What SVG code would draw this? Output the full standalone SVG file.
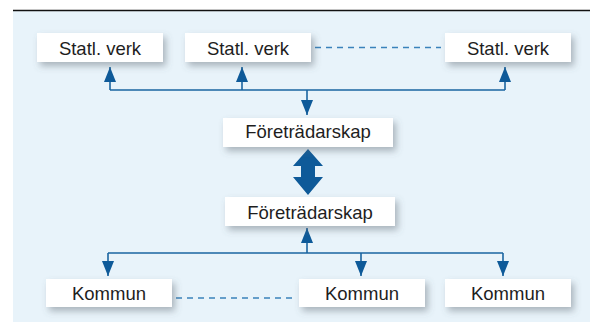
<svg xmlns="http://www.w3.org/2000/svg" width="590" height="322" viewBox="0 0 590 322">
<defs>
<filter id="sh" x="-20%" y="-40%" width="150%" height="200%">
<feDropShadow dx="3" dy="4" stdDeviation="3.5" flood-color="#5a6670" flood-opacity="0.45"/>
</filter>
<marker id="ah" viewBox="0 0 15 12" refX="15" refY="6" markerWidth="15" markerHeight="12" markerUnits="userSpaceOnUse" orient="auto">
<path d="M0,0 L15,6 L0,12 Z" fill="#0e5a99"/>
</marker>
</defs>
<style>
.box{fill:#ffffff;filter:url(#sh)}
.lbl{font-family:"Liberation Sans",Arial,sans-serif;font-size:18.5px;fill:#1e1e1e;text-anchor:middle}
.ln{fill:none;stroke:#1a64a0;stroke-width:1.6}
.dash{fill:none;stroke:#3a82bb;stroke-width:1.6;stroke-dasharray:6,5}
</style>
<rect x="13" y="11" width="577" height="311" fill="#e8f3fa"/>
<line x1="13" y1="10.5" x2="590" y2="10.5" stroke="#111" stroke-width="1.6"/>
<g id="connectors">
<line class="dash" x1="315" y1="47.5" x2="441" y2="47.5"/>
<line class="dash" x1="176" y1="298" x2="296" y2="298"/>
<path class="ln" d="M110,90 H505"/>
<line class="ln" x1="110" y1="90" x2="110" y2="67" marker-end="url(#ah)"/>
<line class="ln" x1="242" y1="90" x2="242" y2="67" marker-end="url(#ah)"/>
<line class="ln" x1="505" y1="90" x2="505" y2="67" marker-end="url(#ah)"/>
<line class="ln" x1="307" y1="90" x2="307" y2="115" marker-end="url(#ah)"/>
<path d="M308,149 L323,166 L315,166 L315,177 L323,177 L308,195 L293,177 L301,177 L301,166 L293,166 Z" fill="#0e5a99"/>
<path class="ln" d="M108,253 H503"/>
<line class="ln" x1="307" y1="253" x2="307" y2="228" marker-end="url(#ah)"/>
<line class="ln" x1="108" y1="253" x2="108" y2="276" marker-end="url(#ah)"/>
<line class="ln" x1="361" y1="253" x2="361" y2="276" marker-end="url(#ah)"/>
<line class="ln" x1="503" y1="253" x2="503" y2="276" marker-end="url(#ah)"/>
</g>
<g id="statl1"><rect class="box" x="37" y="33" width="126" height="29"/><text class="lbl" x="100" y="54.5">Statl. verk</text></g>
<g id="statl2"><rect class="box" x="185" y="33" width="126" height="29"/><text class="lbl" x="248" y="54.5">Statl. verk</text></g>
<g id="statl3"><rect class="box" x="445" y="33" width="126" height="29"/><text class="lbl" x="508" y="54.5">Statl. verk</text></g>
<g id="foretradarskap1"><rect class="box" x="223" y="118" width="170" height="29"/><text class="lbl" x="308" y="138">Företrädarskap</text></g>
<g id="foretradarskap2"><rect class="box" x="225" y="197" width="170" height="29"/><text class="lbl" x="310" y="218.5">Företrädarskap</text></g>
<g id="kommun1"><rect class="box" x="46" y="279" width="126" height="28"/><text class="lbl" x="109" y="300">Kommun</text></g>
<g id="kommun2"><rect class="box" x="299" y="279" width="126" height="28"/><text class="lbl" x="362" y="300">Kommun</text></g>
<g id="kommun3"><rect class="box" x="445" y="279" width="126" height="28"/><text class="lbl" x="508" y="300">Kommun</text></g>
</svg>
